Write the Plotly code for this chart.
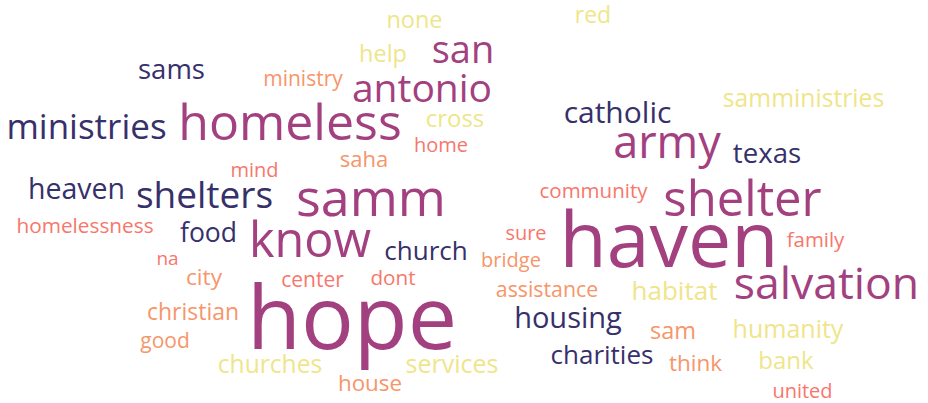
import plotly.graph_objects as go

words = ["none", "red", "help", "san", "sams", "ministry", "antonio", "samministries",
         "catholic", "ministries", "homeless", "cross", "army", "home", "texas", "saha",
         "mind", "heaven", "shelters", "samm", "community", "shelter", "homelessness",
         "food", "know", "church", "na", "city", "center", "dont", "christian", "good",
         "hope", "churches", "services", "house", "sure", "haven", "family", "bridge",
         "assistance", "habitat", "salvation", "housing", "sam", "humanity", "charities",
         "think", "bank", "united"]

x_pos = [414.5, 593, 383, 463, 171.5, 303, 422, 803.5,
         617.5, 86.5, 290, 455, 667, 441, 767, 364,
         254.5, 76.5, 204.5, 371, 593.5, 742.5, 85,
         208.5, 310, 426, 167.5, 204, 312.5, 393, 193, 165,
         352, 270, 452, 370, 526, 669, 815.5, 511,
         547, 674.5, 826.5, 568, 673, 788, 602,
         695.5, 786, 802.5]

y_pos = [22.6, 17.5, 56.6, 53.2, 72, 80.3, 92.3, 101.2,
         115.8, 129.9, 127.5, 121.1, 146.6, 147.2, 156, 161.4,
         172.2, 192.1, 199.1, 202.7, 193.3, 203.4, 228.3,
         235.5, 245.3, 253.9, 260.1, 279.5, 281.8, 280.3, 314.5, 342.3,
         326.7, 366.7, 366.8, 385.5, 235.2, 247.5, 242.2, 262.2,
         291.8, 293.9, 287.9, 321.2, 333.6, 331.8, 357.9,
         365.5, 362.6, 393.2]

sizes = [23.5, 23, 23.5, 38, 27.5, 21, 39, 24.7,
         30, 35, 50, 24, 45, 20, 27.6, 22,
         20, 28.5, 37, 52, 20.5, 49, 20.8,
         26.5, 48.5, 26, 19, 22.7, 21, 20.7, 23, 21,
         88, 24.6, 25, 22.4, 20, 77, 20.4, 20,
         21.3, 26, 44.5, 29, 23.5, 25, 26,
         22.5, 24, 20]

groups = ["y", "y", "y", "m", "n", "o", "m", "y",
          "n", "n", "m", "y", "m", "s", "n", "o",
          "s", "n", "n", "m", "s", "m", "s",
          "n", "m", "n", "s", "o", "s", "s", "o", "o",
          "m", "y", "y", "o", "s", "m", "s", "o",
          "o", "y", "m", "n", "o", "y", "n",
          "o", "y", "s"]

palette = {"n": "#36306b", "m": "#a3407f", "s": "#f7776c", "o": "#f6966a", "y": "#efe58a"}
colors = [palette[g] for g in groups]

fig = go.Figure(go.Scatter(
    x=x_pos, y=y_pos, text=words, mode="text",
    textposition="middle center",
    textfont=dict(family="Open Sans", size=sizes, color=colors),
    hoverinfo="text",
))

fig.update_layout(
    width=928, height=403,
    margin=dict(l=0, r=0, t=0, b=0),
    paper_bgcolor="white", plot_bgcolor="white",
    showlegend=False,
    xaxis=dict(range=[0, 928], visible=False, fixedrange=True),
    yaxis=dict(range=[403, 0], visible=False, fixedrange=True),
)

fig.write_html(
    "out.html",
    config={"displayModeBar": False},
    post_script="document.body.style.margin='0';document.body.style.overflow='hidden';",
)
